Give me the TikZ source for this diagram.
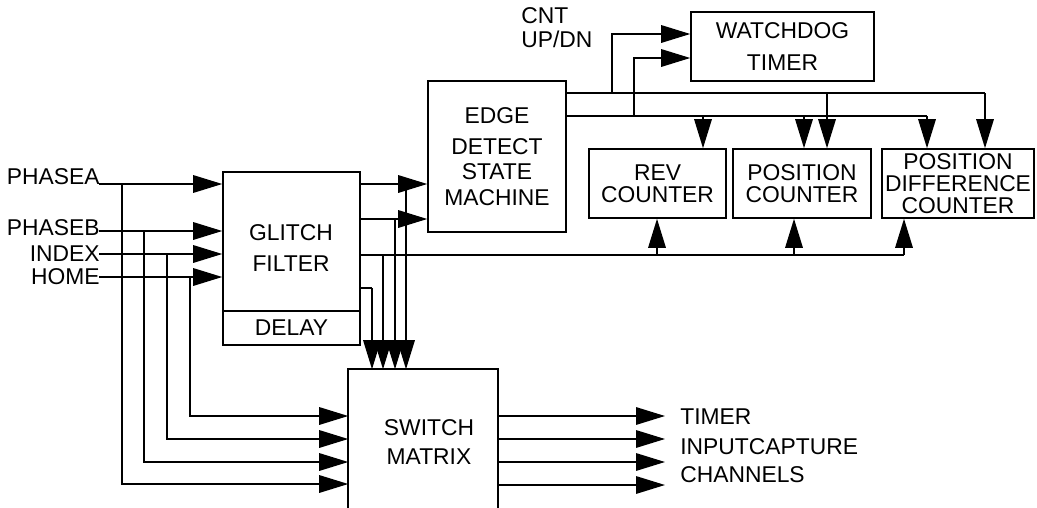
\documentclass[tikz,border=0pt]{standalone}
\usepackage{fontspec}
\setmainfont{Liberation Sans}
\usetikzlibrary{arrows.meta}

\tikzset{
  blk/.style={draw, line width=0.9pt, inner sep=0pt, align=center},
  sig/.style={line width=0.9pt, -{Triangle[length=0.58cm,width=0.35cm]}},
  wire/.style={line width=0.9pt},
  pin/.style={inner sep=0pt, align=center},
}

\begin{document}
\begin{tikzpicture}[x=0.02cm,y=-0.02cm,font=\fontsize{13}{13.5}\selectfont]
  \useasboundingbox (0,0) rectangle (1037,507);

  % blocks
  \node[blk,minimum width=2.74cm,minimum height=2.78cm] (glitch) at (291.5,241.5) {};
  \node[pin,font=\fontsize{13}{18}\selectfont] (glitchT) at (291,248) {GLITCH\\FILTER};
  \node[blk,minimum width=2.74cm,minimum height=0.68cm] (delay) at (291.5,328) {DELAY};
  \node[blk,minimum width=2.76cm,minimum height=3.02cm,font=\fontsize{13}{14.5}\selectfont] (edge) at (497,156.5) {EDGE\\[3pt]DETECT\\STATE\\MACHINE};
  \node[blk,minimum width=3.66cm,minimum height=1.38cm,font=\fontsize{13}{18}\selectfont] (wdog) at (782.5,46.5) {WATCHDOG\\TIMER};
  \node[blk,minimum width=2.74cm,minimum height=1.38cm,font=\fontsize{13}{12.6}\selectfont] (rev) at (657.5,183.5) {REV\\COUNTER};
  \node[blk,minimum width=2.76cm,minimum height=1.38cm,font=\fontsize{13}{12.6}\selectfont] (pos) at (802,183.5) {POSITION\\COUNTER};
  \node[blk,minimum width=3.04cm,minimum height=1.38cm,font=\fontsize{13}{12.4}\selectfont] (pdc) at (958,183.5) {POSITION\\DIFFERENCE\\COUNTER};
  \node[blk,draw=none,minimum width=2.96cm,minimum height=2.74cm] (sw) at (423,438.5) {};
  \draw[wire] (sw.south west) |- (sw.north east) -- (sw.south east);
  \node[pin,font=\fontsize{13}{17}\selectfont] (swT) at (429,442) {SWITCH\\MATRIX};

  % input pins
  \node[pin,anchor=east] (lA) at (100,177) {PHASEA};
  \node[pin,anchor=east] (lB) at (100,228) {PHASEB};
  \node[pin,anchor=east] (lC) at (100,254) {INDEX};
  \node[pin,anchor=east] (lD) at (100,277) {HOME};
  \coordinate (inA) at (99,184);
  \coordinate (inB) at (99,231);
  \coordinate (inC) at (99,254);
  \coordinate (inD) at (99,277);
  \draw[sig] (inA) -- (inA -| glitch.west);
  \draw[sig] (inB) -- (inB -| glitch.west);
  \draw[sig] (inC) -- (inC -| glitch.west);
  \draw[sig] (inD) -- (inD -| glitch.west);

  % raw inputs into the switch matrix
  \coordinate (tA) at (122,184);
  \coordinate (tB) at (144,231);
  \coordinate (tC) at (167,254);
  \coordinate (tD) at (190,277);
  \coordinate (rA) at (0,484);
  \coordinate (rB) at (0,462);
  \coordinate (rC) at (0,439);
  \coordinate (rD) at (0,416);
  \draw[sig] (tA) |- (sw.west |- rA);
  \draw[sig] (tB) |- (sw.west |- rB);
  \draw[sig] (tC) |- (sw.west |- rC);
  \draw[sig] (tD) |- (sw.west |- rD);

  % filtered signals
  \coordinate (gA) at (0,184);
  \coordinate (gB) at (0,219);
  \coordinate (gC) at (0,255);
  \coordinate (gD) at (0,288);
  \draw[sig] (glitch.east |- gA) -- (edge.west |- gA);
  \draw[sig] (glitch.east |- gB) -- (edge.west |- gB);
  \coordinate (dA) at (406,184);
  \coordinate (dB) at (395,219);
  \coordinate (dC) at (383,255);
  \coordinate (dD) at (372,288);
  \draw[wire] (glitch.east |- gD) -- (dD);
  \draw[sig] (dA) -- (dA |- sw.north);
  \draw[sig] (dB) -- (dB |- sw.north);
  \draw[sig] (dC) -- (dC |- sw.north);
  \draw[sig] (dD) -- (dD |- sw.north);
  \coordinate (uA) at (657,255);
  \coordinate (uB) at (794,255);
  \coordinate (uC) at (904,255);
  \draw[wire] (glitch.east |- gC) -- (uC);
  \draw[sig] (uA) -- (uA |- rev.south);
  \draw[sig] (uB) -- (uB |- pos.south);
  \draw[sig] (uC) -- (uC |- pdc.south);

  % edge detect outputs
  \coordinate (eA) at (985,93);
  \coordinate (eB) at (927,116);
  \draw[wire] (edge.east |- eA) -- (eA);
  \draw[wire] (edge.east |- eB) -- (eB);
  \draw[sig] (eA) -- (eA |- pdc.north);
  \draw[sig] (eB) -- (eB |- pdc.north);
  \coordinate (kA) at (827,93);
  \coordinate (kB) at (703,116);
  \coordinate (kC) at (804,116);
  \draw[sig] (kA) -- (kA |- pos.north);
  \draw[sig] (kB) -- (kB |- rev.north);
  \draw[sig] (kC) -- (kC |- pos.north);
  \coordinate (wA) at (612,93);
  \coordinate (wB) at (634,116);
  \coordinate (wrA) at (0,34);
  \coordinate (wrB) at (0,58);
  \draw[sig] (wA) |- (wdog.west |- wrA);
  \draw[sig] (wB) |- (wdog.west |- wrB);
  \node[pin,anchor=west] (cntA) at (521,16) {CNT};
  \node[pin,anchor=west] (cntB) at (521,39) {UP/DN};

  % timer outputs
  \coordinate (oA) at (665,416);
  \coordinate (oB) at (665,439);
  \coordinate (oC) at (665,462);
  \coordinate (oD) at (665,485);
  \draw[sig] (sw.east |- oA) -- (oA);
  \draw[sig] (sw.east |- oB) -- (oB);
  \draw[sig] (sw.east |- oC) -- (oC);
  \draw[sig] (sw.east |- oD) -- (oD);
  \node[pin,anchor=west] (oTa) at (680,417) {TIMER};
  \node[pin,anchor=west] (oTb) at (680,447) {INPUTCAPTURE};
  \node[pin,anchor=west] (oTc) at (680,475) {CHANNELS};
\end{tikzpicture}
\end{document}
